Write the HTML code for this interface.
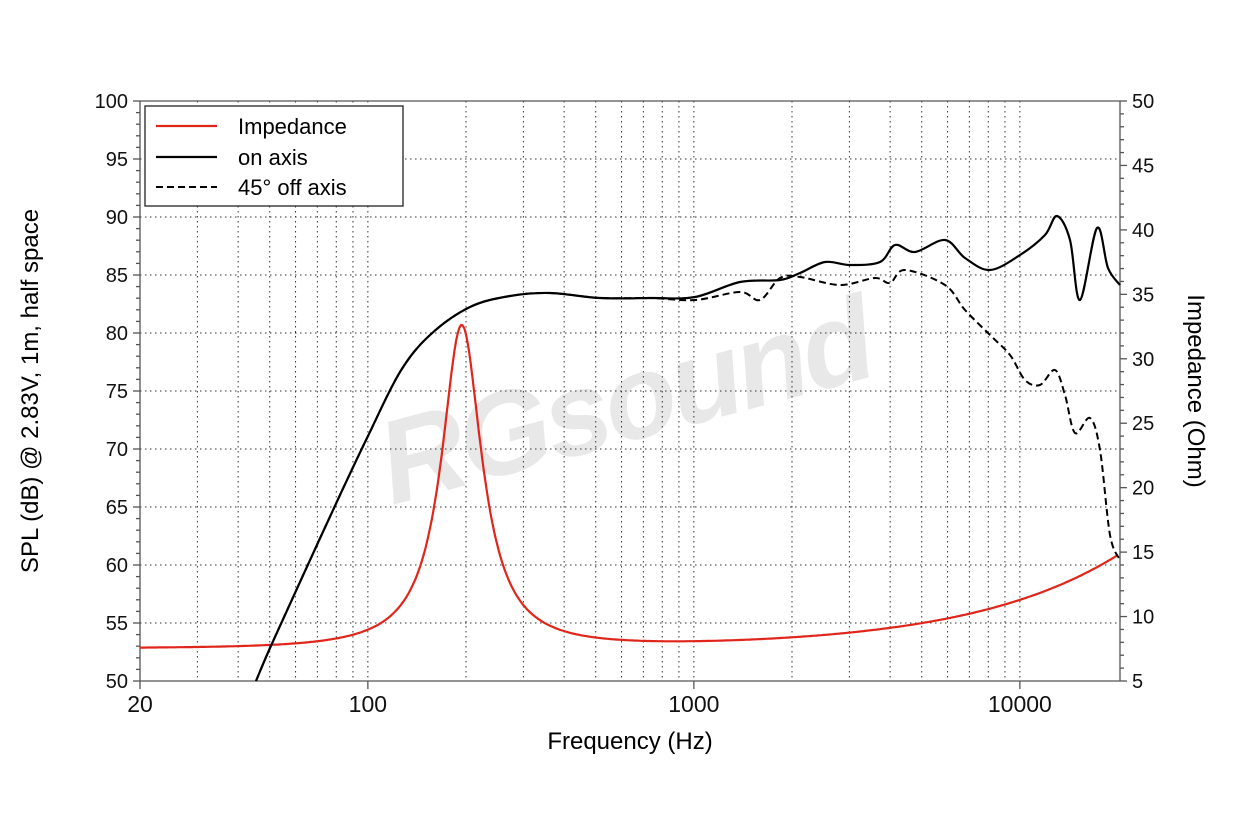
<!DOCTYPE html>
<html><head><meta charset="utf-8"><style>
html,body{margin:0;padding:0;background:#fff;}
svg{display:block;font-family:"Liberation Sans",Arial,sans-serif;}
</style></head><body>
<svg id="s" width="1260" height="840" viewBox="0 0 1260 840" xmlns="http://www.w3.org/2000/svg">
<g transform="translate(392,505) rotate(-15)" fill="#e8e8e8">
<text x="0" y="0" font-size="118" font-weight="bold" font-style="italic" letter-spacing="-4">RGsound</text>
</g>
<g id="grid" stroke="#333" stroke-width="1" stroke-dasharray="1.5,3.5" fill="none"></g>
<g id="ax" stroke="#555" stroke-width="1.3" fill="none"></g>
<g id="lbl" font-size="20" fill="#111"></g>
<path id="imp" fill="none" stroke="#e0251b" stroke-width="2.2"/>
<path id="off" fill="none" stroke="#000" stroke-width="2" stroke-dasharray="7,4"/>
<path id="on" fill="none" stroke="#000" stroke-width="2.2"/>
<rect x="145" y="106" width="258" height="100" fill="#fff" stroke="#222" stroke-width="1.3"/>
<line x1="156" y1="126" x2="217" y2="126" stroke="#e0251b" stroke-width="2.2"/>
<line x1="156" y1="157" x2="217" y2="157" stroke="#000" stroke-width="2.2"/>
<line x1="156" y1="187" x2="217" y2="187" stroke="#000" stroke-width="2" stroke-dasharray="7,4"/>
<text x="238" y="134" font-size="22">Impedance</text>
<text x="238" y="165" font-size="22">on axis</text>
<text x="238" y="195" font-size="22">45° off axis</text>
<text x="630" y="749" font-size="24" text-anchor="middle">Frequency (Hz)</text>
<text transform="translate(38,391) rotate(-90)" font-size="24" text-anchor="middle">SPL (dB) @ 2.83V, 1m, half space</text>
<text transform="translate(1188,391) rotate(90)" font-size="24" text-anchor="middle">Impedance (Ohm)</text>
</svg>
<script>
const NS="http://www.w3.org/2000/svg";
const L=140,R=1120,T=101,B=681,D=326;
const X=f=>L+D*Math.log10(f/20);
function el(p,t,a,txt){const e=document.createElementNS(NS,t);for(const k in a)e.setAttribute(k,a[k]);if(txt!==undefined)e.textContent=txt;document.getElementById(p).appendChild(e);}
for(let dec=10;dec<=10000;dec*=10){for(let m=1;m<10;m++){const f=dec*m;if(f<=20||f>=20000)continue;const x=X(f);el("grid","line",{x1:x,y1:T,x2:x,y2:B});}}
for(let v=55;v<100;v+=5){const y=B-(v-50)*11.6;el("grid","line",{x1:L,y1:y,x2:R,y2:y});}
el("ax","line",{x1:L,y1:T,x2:L,y2:B});el("ax","line",{x1:R,y1:T,x2:R,y2:B});el("ax","line",{x1:L,y1:B,x2:R,y2:B});el("ax","line",{x1:L,y1:T,x2:R,y2:T});
for(let v=50;v<=100;v++){const y=B-(v-50)*11.6;const big=v%5==0;el("ax","line",{x1:L-(big?7:4),y1:y,x2:L,y2:y});if(big)el("lbl","text",{x:L-12,y:y+7,"text-anchor":"end"},v);}
for(let o=5;o<=50;o++){const y=B-(o-5)*580/45;const big=o%5==0;el("ax","line",{x1:R,y1:y,x2:R+(big?7:4),y2:y});if(big)el("lbl","text",{x:R+12,y:y+7},o);}
[20,100,1000,10000].forEach(f=>{const x=X(f);el("ax","line",{x1:x,y1:B,x2:x,y2:B+8});el("lbl","text",{x:x,y:712,"text-anchor":"middle","font-size":"23"},f);});
let d="";for(let i=0;i<=600;i++){const f=20*Math.pow(1000,i/600);const x=f/194-194/f;let z=7.55+25.0/(1+8.4*x*x)+0.42*Math.pow(f/1000,0.95);const px=X(f),py=B-(z-5)*580/45;d+=(i?"L":"M")+px.toFixed(1)+" "+py.toFixed(1);}
document.getElementById("imp").setAttribute("d",d);
function cr(p){let s="M"+p[0][0]+" "+p[0][1];for(let i=0;i<p.length-1;i++){const p0=p[Math.max(0,i-1)],p1=p[i],p2=p[i+1],p3=p[Math.min(p.length-1,i+2)];s+=`C${p1[0]+(p2[0]-p0[0])/6} ${p1[1]+(p2[1]-p0[1])/6} ${p2[0]-(p3[0]-p1[0])/6} ${p2[1]-(p3[1]-p1[1])/6} ${p2[0]} ${p2[1]}`;}return s;}
const base=[[256,681],[270,648],[300,582],[340,495],[368,436],[400,372],[430,335],[470,307],[510,296],[550,293],[600,298],[650,298],[695,297]];
const on=base.concat([[740,282],[780,280],[800,273],[825,262],[850,265],[880,262],[895,245],[915,252],[945,240],[965,258],[990,270],[1020,255],[1045,235],[1057,216],[1070,240],[1080,300],[1097,228],[1108,268],[1120,285]]);
const off=base.slice(0,-1).concat([[695,300],[740,292],[760,300],[780,278],[800,277],[840,285],[875,278],[890,283],[905,270],[945,285],[965,310],[990,335],[1010,355],[1025,380],[1040,385],[1055,370],[1065,395],[1075,433],[1090,418],[1100,450],[1110,535],[1120,560]]);
document.getElementById("on").setAttribute("d",cr(on));
document.getElementById("off").setAttribute("d",cr(off));
</script>
</body></html>
